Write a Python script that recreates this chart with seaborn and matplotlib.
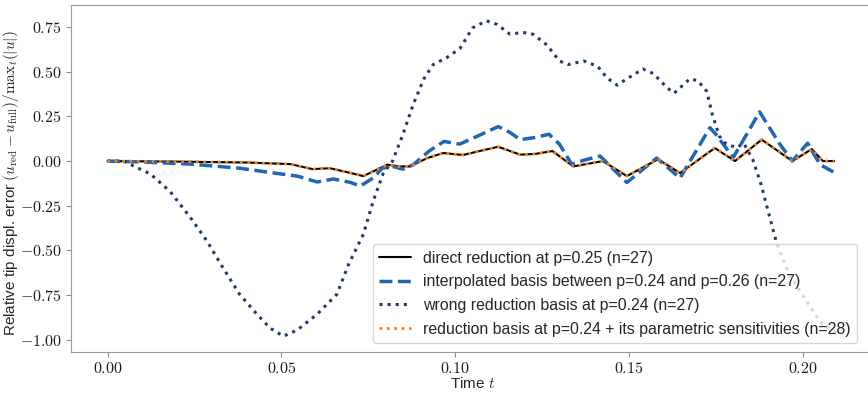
import numpy as np
import pandas as pd
import seaborn as sns
import matplotlib.pyplot as plt
from matplotlib.ticker import FuncFormatter

# direct reduction at p=0.25 (n=27); the sensitivity-enriched basis lies on top of it
t_direct = [0.0, 0.02, 0.04, 0.0526, 0.059, 0.064, 0.070, 0.0736, 0.0805, 0.084, 0.087,
            0.092, 0.0966, 0.1023, 0.107, 0.1124, 0.1187, 0.123, 0.128, 0.134, 0.1425,
            0.1494, 0.1584, 0.1647, 0.1747, 0.1805, 0.1882, 0.197, 0.2026, 0.2058, 0.209]
e_direct = [0.0, -0.003, -0.008, -0.017, -0.045, -0.04, -0.067, -0.084, -0.02, -0.03, -0.03,
            0.017, 0.045, 0.034, 0.056, 0.08, 0.036, 0.04, 0.056, -0.03, 0.0,
            -0.084, 0.01, -0.067, 0.073, 0.0, 0.12, 0.0, 0.067, 0.0, 0.0]

# interpolated basis between p=0.24 and p=0.26 (n=27)
t_interp = [0.0, 0.01, 0.024, 0.038, 0.048, 0.0546, 0.0603, 0.065, 0.070, 0.0727, 0.0764,
            0.079, 0.082, 0.085, 0.088, 0.0925, 0.0968, 0.1013, 0.1065, 0.1124, 0.1158,
            0.1187, 0.1224, 0.127, 0.130, 0.1335, 0.138, 0.1417, 0.1494, 0.158, 0.1647,
            0.1733, 0.175, 0.18, 0.1876, 0.1934, 0.197, 0.2014, 0.205, 0.209]
e_interp = [0.0, -0.005, -0.017, -0.04, -0.067, -0.084, -0.117, -0.10, -0.12, -0.14, -0.095,
            -0.04, -0.03, -0.045, -0.02, 0.056, 0.11, 0.095, 0.14, 0.193, 0.16,
            0.12, 0.13, 0.15, 0.095, -0.017, 0.01, 0.028, -0.12, 0.017, -0.095,
            0.187, 0.15, 0.02, 0.275, 0.095, 0.0, 0.10, -0.02, -0.063]

# wrong reduction basis at p=0.24 (n=27)
t_wrong = [0.0, 0.0046, 0.0124, 0.018, 0.024, 0.0287, 0.0333, 0.038, 0.043, 0.0468, 0.0506,
           0.0546, 0.0603, 0.066, 0.0693, 0.0736, 0.0765, 0.0793, 0.082, 0.085, 0.088,
           0.091, 0.0937, 0.0977, 0.1014, 0.105, 0.109, 0.112, 0.1158, 0.1195, 0.1224,
           0.1264, 0.130, 0.1325, 0.137, 0.141, 0.1437, 0.1466, 0.1494, 0.154, 0.157,
           0.161, 0.163, 0.1675, 0.1698, 0.1724, 0.174, 0.176, 0.178, 0.181, 0.183,
           0.1856, 0.188, 0.1925, 0.196, 0.201, 0.205, 0.21]
e_wrong = [0.0, 0.0, -0.073, -0.17, -0.32, -0.45, -0.60, -0.745, -0.857, -0.935, -0.98,
           -0.945, -0.857, -0.745, -0.58, -0.41, -0.22, -0.07, 0.0, 0.15, 0.32,
           0.46, 0.54, 0.58, 0.63, 0.745, 0.785, 0.765, 0.71, 0.72, 0.71,
           0.65, 0.56, 0.54, 0.56, 0.53, 0.465, 0.425, 0.46, 0.515, 0.49,
           0.41, 0.38, 0.46, 0.45, 0.39, 0.26, 0.14, 0.095, 0.075, 0.10,
           0.01, -0.13, -0.46, -0.63, -0.78, -0.90, -0.97]

labels = ["direct reduction at p=0.25 (n=27)",
          "interpolated basis between p=0.24 and p=0.26 (n=27)",
          "wrong reduction basis at p=0.24 (n=27)",
          "reduction basis at p=0.24 + its parametric sensitivities (n=28)"]

sns.set_style("ticks")
plt.rcParams['font.family'] = ['Liberation Sans', 'DejaVu Sans']
plt.rcParams['mathtext.fontset'] = 'cm'
plt.rcParams['font.size'] = 10

fig = plt.figure(figsize=(8.68, 3.93), dpi=100)
ax = fig.add_axes([71/868, 41/393, 803/868, 347/393])

sns.lineplot(x=t_direct, y=e_direct, ax=ax, color='black', lw=1.5, label=labels[0])
sns.lineplot(x=t_interp, y=e_interp, ax=ax, color='#1f66b3', lw=2.5, linestyle='--', label=labels[1])
sns.lineplot(x=t_wrong, y=e_wrong, ax=ax, color='#213a6b', lw=2.2, linestyle=':', label=labels[2])
sns.lineplot(x=t_direct, y=e_direct, ax=ax, color='#ff7f0e', lw=2.0, linestyle=':', label=labels[3])

ax.set_xticks([0.0, 0.05, 0.10, 0.15, 0.20])
ax.set_yticks([-1.0, -0.75, -0.5, -0.25, 0.0, 0.25, 0.5, 0.75])
fmt = FuncFormatter(lambda v, p: f'${v:.2f}$')
ax.xaxis.set_major_formatter(fmt)
ax.yaxis.set_major_formatter(fmt)
ax.tick_params(color='0.55', labelcolor='0.1', labelsize=11.5, pad=3)
for s in ax.spines.values():
    s.set_color('0.6')

ax.set_xlabel(r'Time $t$', fontsize=11, labelpad=0)
ax.set_ylabel(r'Relative tip displ. error $(u_\mathrm{red} - u_\mathrm{full})/\mathrm{max}_t(|u|)$',
              fontsize=11)
ax.yaxis.set_label_coords(-0.0623, 0.487)

ax.legend(loc='lower right', bbox_to_anchor=(0.979, 0.026), borderaxespad=0, fontsize=11.4,
          labelspacing=0.55)

fig.savefig('out.png', dpi=100)
